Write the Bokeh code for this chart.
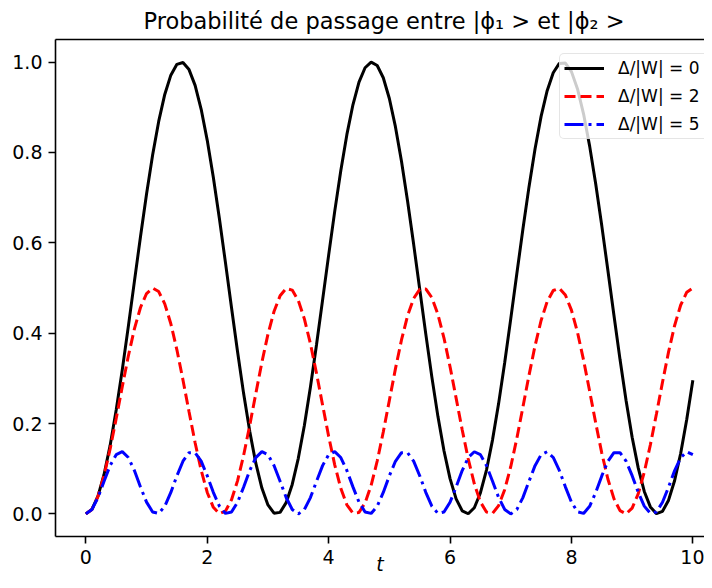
from bokeh.plotting import figure
from bokeh.models import Range1d, FixedTicker, PrintfTickFormatter, LinearAxis, Legend, LegendItem
from bokeh.embed import file_html
from bokeh.resources import INLINE

t = [0.0, 0.1, 0.2, 0.3, 0.4, 0.5, 0.6, 0.7, 0.8, 0.9,
     1.0, 1.1, 1.2, 1.3, 1.4, 1.5, 1.6, 1.7, 1.8, 1.9,
     2.0, 2.1, 2.2, 2.3, 2.4, 2.5, 2.6, 2.7, 2.8, 2.9,
     3.0, 3.1, 3.2, 3.3, 3.4, 3.5, 3.6, 3.7, 3.8, 3.9,
     4.0, 4.1, 4.2, 4.3, 4.4, 4.5, 4.6, 4.7, 4.8, 4.9,
     5.0, 5.1, 5.2, 5.3, 5.4, 5.5, 5.6, 5.7, 5.8, 5.9,
     6.0, 6.1, 6.2, 6.3, 6.4, 6.5, 6.6, 6.7, 6.8, 6.9,
     7.0, 7.1, 7.2, 7.3, 7.4, 7.5, 7.6, 7.7, 7.8, 7.9,
     8.0, 8.1, 8.2, 8.3, 8.4, 8.5, 8.6, 8.7, 8.8, 8.9,
     9.0, 9.1, 9.2, 9.3, 9.4, 9.5, 9.6, 9.7, 9.8, 9.9,
     10.0]

p_delta0 = [0.0000, 0.0100, 0.0395, 0.0873, 0.1516, 0.2298, 0.3188, 0.4150, 0.5146, 0.6136,
            0.7081, 0.7943, 0.8687, 0.9284, 0.9711, 0.9950, 0.9991, 0.9834, 0.9484, 0.8955,
            0.8268, 0.7451, 0.6537, 0.5561, 0.4563, 0.3582, 0.2657, 0.1827, 0.1122, 0.0572,
            0.0199, 0.0017, 0.0034, 0.0249, 0.0653, 0.1231, 0.1958, 0.2807, 0.3744, 0.4731,
            0.5728, 0.6696, 0.7597, 0.8394, 0.9055, 0.9555, 0.9875, 1.0000, 0.9924, 0.9653,
            0.9195, 0.8571, 0.7806, 0.6927, 0.5972, 0.4977, 0.3985, 0.3033, 0.2159, 0.1398,
            0.0781, 0.0332, 0.0069, 0.0003, 0.0136, 0.0463, 0.0970, 0.1639, 0.2441, 0.3346,
            0.4316, 0.5314, 0.6300, 0.7232, 0.8077, 0.8798, 0.9368, 0.9765, 0.9970, 0.9978,
            0.9789, 0.9407, 0.8849, 0.8140, 0.7303, 0.6376, 0.5393, 0.4396, 0.3421, 0.2510,
            0.1698, 0.1018, 0.0497, 0.0155, 0.0006, 0.0057, 0.0304, 0.0739, 0.1343, 0.2093,
            0.2960]

p_delta2 = [0.0000, 0.0099, 0.0389, 0.0847, 0.1437, 0.2110, 0.2815, 0.3495, 0.4095, 0.4569,
            0.4878, 0.4999, 0.4921, 0.4650, 0.4209, 0.3632, 0.2965, 0.2261, 0.1576, 0.0964,
            0.0475, 0.0146, 0.0005, 0.0061, 0.0312, 0.0737, 0.1301, 0.1961, 0.2664, 0.3354,
            0.3976, 0.4480, 0.4827, 0.4990, 0.4954, 0.4724, 0.4316, 0.3765, 0.3113, 0.2412,
            0.1718, 0.1086, 0.0567, 0.0201, 0.0018, 0.0033, 0.0243, 0.0632, 0.1171, 0.1814,
            0.2512, 0.3210, 0.3850, 0.4384, 0.4768, 0.4971, 0.4979, 0.4789, 0.4417, 0.3893,
            0.3258, 0.2563, 0.1863, 0.1214, 0.0667, 0.0265, 0.0041, 0.0013, 0.0182, 0.0535,
            0.1045, 0.1670, 0.2361, 0.3063, 0.3720, 0.4281, 0.4700, 0.4944, 0.4994, 0.4845,
            0.4511, 0.4016, 0.3401, 0.2715, 0.2011, 0.1346, 0.0773, 0.0337, 0.0073, 0.0002,
            0.0129, 0.0445, 0.0924, 0.1528, 0.2210, 0.2914, 0.3586, 0.4171, 0.4624, 0.4907,
            0.5000]

p_delta5 = [0.0000, 0.0098, 0.0363, 0.0721, 0.1070, 0.1311, 0.1377, 0.1248, 0.0961, 0.0597,
            0.0260, 0.0044, 0.0011, 0.0170, 0.0476, 0.0843, 0.1166, 0.1354, 0.1355, 0.1167,
            0.0844, 0.0477, 0.0171, 0.0011, 0.0044, 0.0259, 0.0596, 0.0960, 0.1247, 0.1377,
            0.1311, 0.1070, 0.0722, 0.0364, 0.0098, 0.0000, 0.0097, 0.0362, 0.0720, 0.1069,
            0.1311, 0.1377, 0.1248, 0.0962, 0.0598, 0.0261, 0.0044, 0.0011, 0.0169, 0.0475,
            0.0842, 0.1165, 0.1354, 0.1355, 0.1167, 0.0845, 0.0478, 0.0171, 0.0011, 0.0043,
            0.0258, 0.0595, 0.0959, 0.1247, 0.1376, 0.1312, 0.1071, 0.0723, 0.0365, 0.0099,
            0.0000, 0.0097, 0.0361, 0.0719, 0.1068, 0.1310, 0.1377, 0.1249, 0.0963, 0.0599,
            0.0262, 0.0045, 0.0011, 0.0169, 0.0474, 0.0841, 0.1164, 0.1354, 0.1355, 0.1168,
            0.0846, 0.0479, 0.0172, 0.0012, 0.0043, 0.0258, 0.0594, 0.0958, 0.1246, 0.1376,
            0.1312]

labels = ["Δ/|W| = 0", "Δ/|W| = 2", "Δ/|W| = 5"]
x_ticks = [0, 2, 4, 6, 8, 10]
y_ticks = [0.0, 0.2, 0.4, 0.6, 0.8, 1.0]
title_text = "Probabilité de passage entre |ϕ₁ >  et |ϕ₂ >"
x_label = "t"

FONT = "DejaVu Sans"

p = figure(width=704, height=580, output_backend="svg", toolbar_location=None,
           x_range=Range1d(-0.5, 10.192), y_range=Range1d(-0.05, 1.05),
           min_border_left=55, min_border_right=0, min_border_top=39, min_border_bottom=44,
           title=title_text)
p.outline_line_color = None
p.grid.visible = False
p.background_fill_color = "white"
p.border_fill_color = "white"

p.title.text_font = FONT
p.title.text_font_size = "22.5px"
p.title.text_font_style = "normal"
p.title.text_color = "black"
p.title.align = "left"
p.title.offset = 88
p.title.standoff = 11

for ax in p.axis:
    ax.axis_line_width = 1.6
    ax.major_tick_line_width = 1.6
    ax.major_tick_out = 7
    ax.major_tick_in = 0
    ax.minor_tick_out = 0
    ax.minor_tick_in = 0
    ax.major_label_text_font = FONT
    ax.major_label_text_font_size = "19px"
    ax.major_label_text_color = "black"
    ax.major_label_standoff = 6

p.xaxis.ticker = FixedTicker(ticks=x_ticks)
p.yaxis.ticker = FixedTicker(ticks=y_ticks)
p.yaxis.formatter = PrintfTickFormatter(format="%.1f")
p.xaxis.axis_label = x_label
p.xaxis.axis_label_text_font = FONT
p.xaxis.axis_label_text_font_size = "19px"
p.xaxis.axis_label_text_font_style = "italic"
p.xaxis.axis_label_text_color = "black"
p.xaxis.axis_label_standoff = -14

top = LinearAxis(ticker=FixedTicker(ticks=[]), major_tick_out=0, major_tick_in=0,
                 minor_tick_out=0, minor_tick_in=0, major_label_text_font_size="0px",
                 major_label_standoff=0, axis_line_width=1.6)
p.add_layout(top, "above")

r0 = p.line(t, p_delta0, line_color="black", line_width=3)
r2 = p.line(t, p_delta2, line_color="#ff0000", line_width=3, line_dash="11 5")
r5 = p.line(t, p_delta5, line_color="#0000ff", line_width=3, line_dash="19 5 3 5")

legend = Legend(items=[LegendItem(label=labels[0], renderers=[r0]),
                       LegendItem(label=labels[1], renderers=[r2]),
                       LegendItem(label=labels[2], renderers=[r5])],
                location=(504, 397), margin=0, padding=4, spacing=8,
                glyph_width=40, glyph_height=20, label_height=20, label_standoff=14,
                label_width=110,
                label_text_font=FONT, label_text_font_size="17px", label_text_color="black",
                border_line_color="#cccccc", border_line_width=1.6, border_radius=5,
                background_fill_color="white", background_fill_alpha=0.8)
p.add_layout(legend)

open("out.html", "w").write(file_html(p, INLINE))
